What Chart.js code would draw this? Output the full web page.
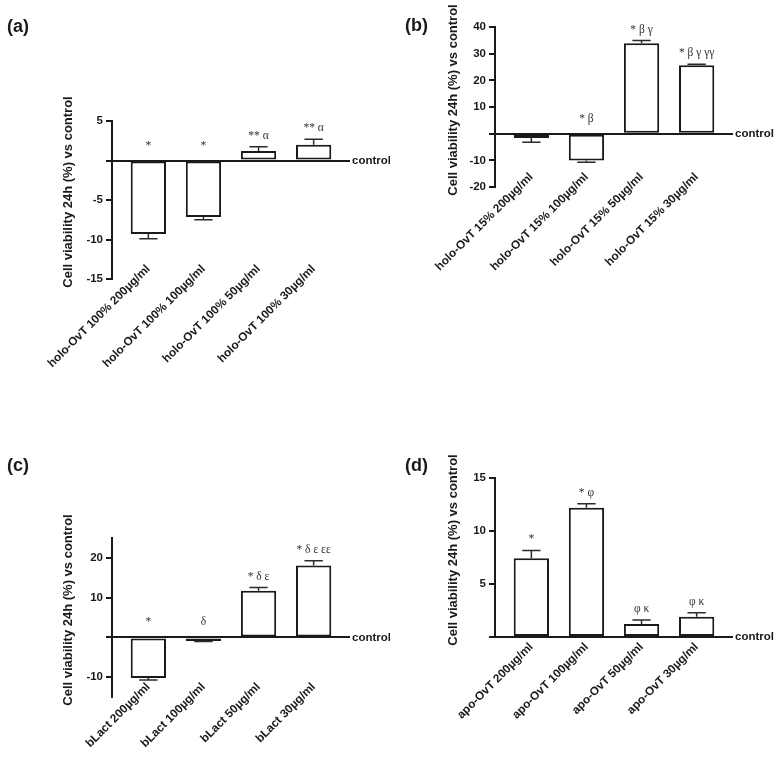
<!DOCTYPE html>
<html>
<head>
<meta charset="utf-8">
<title>Cell viability 24h</title>
<script src="https://cdn.jsdelivr.net/npm/chart.js@4.4.1/dist/chart.umd.min.js"></script>
<style>
  html, body { margin: 0; padding: 0; background: #fff; }
  #wrap { position: relative; width: 781px; height: 759px; overflow: hidden; }
  canvas { position: absolute; }
  .tag { position: absolute; font: bold 18px 'Liberation Sans', Arial, sans-serif; line-height: 20px; color: #1a1a1a; }
</style>
</head>
<body>
<div id="wrap">
  <canvas id="chartA"></canvas>
  <canvas id="chartB"></canvas>
  <canvas id="chartC"></canvas>
  <canvas id="chartD"></canvas>
  <div class="tag" style="left:7px;top:16px">(a)</div>
  <div class="tag" style="left:405px;top:15px">(b)</div>
  <div class="tag" style="left:7px;top:455px">(c)</div>
  <div class="tag" style="left:405px;top:455px">(d)</div>
</div>
<script>
// DATA
const labelsA = ['holo-OvT 100% 200µg/ml', 'holo-OvT 100% 100µg/ml', 'holo-OvT 100% 50µg/ml', 'holo-OvT 100% 30µg/ml'];
const valuesA = [-9.3, -7.15, 1.2, 2.0];
const errorsA = [0.6, 0.35, 0.55, 0.7];
const marksA = ['*', '*', '** α', '** α'];
const ticksA = [5, 0, -5, -10, -15];

const labelsB = ['holo-OvT 15% 200µg/ml', 'holo-OvT 15% 100µg/ml', 'holo-OvT 15% 50µg/ml', 'holo-OvT 15% 30µg/ml'];
const valuesB = [-1.6, -10.1, 33.9, 25.7];
const errorsB = [1.6, 0.6, 1.0, 0.3];
const marksB = ['', '* β', '* β γ', '* β γ γγ'];
const ticksB = [40, 30, 20, 10, 0, -10, -20];

const labelsC = ['bLact 200µg/ml', 'bLact 100µg/ml', 'bLact 50µg/ml', 'bLact 30µg/ml'];
const valuesC = [-10.2, -0.9, 11.7, 18.1];
const errorsC = [0.55, 0.12, 0.85, 1.15];
const marksC = ['*', 'δ', '* δ ε', '* δ ε εε'];
const ticksC = [20, 10, 0, -10];

const labelsD = ['apo-OvT 200µg/ml', 'apo-OvT 100µg/ml', 'apo-OvT 50µg/ml', 'apo-OvT 30µg/ml'];
const valuesD = [7.42, 12.2, 1.23, 1.92];
const errorsD = [0.75, 0.37, 0.37, 0.37];
const marksD = ['*', '* φ', 'φ κ', 'φ κ'];
const ticksD = [15, 10, 5, 0];

const yTitle = 'Cell viability 24h (%) vs control';
const INK = '#1a1a1a';

Chart.defaults.font.family = "'Liberation Sans', Arial, Helvetica, sans-serif";
Chart.defaults.color = INK;

// one panel = one canvas
function makePanel(id, p) {
    const cv = document.getElementById(id);
    cv.width = p.w;
    cv.height = p.h;
    cv.style.left = p.x + 'px';
    cv.style.top = p.y + 'px';

    // error bars, significance marks, "control" label, y title
    const decor = {
        id: 'decor',
        afterDatasetsDraw(chart) {
            const ctx = chart.ctx;
            const ys = chart.scales.y;
            const area = chart.chartArea;
            const zero = ys.getPixelForValue(0);
            const bars = chart.getDatasetMeta(0).data;

            ctx.save();
            ctx.strokeStyle = '#2b2b2b';
            ctx.lineWidth = 1.5;
            bars.forEach((bar, i) => {
                const v = p.values[i];
                const tip = ys.getPixelForValue(v + Math.sign(v) * p.errors[i]);
                const edge = ys.getPixelForValue(v);
                const half = bar.width * 0.26;
                ctx.beginPath();
                ctx.moveTo(bar.x, edge);
                ctx.lineTo(bar.x, tip);
                ctx.moveTo(bar.x - half, tip);
                ctx.lineTo(bar.x + half, tip);
                ctx.stroke();

                if (p.marks[i]) {
                    ctx.font = "11.5px 'Liberation Serif', 'DejaVu Serif', serif";
                    ctx.fillStyle = '#333';
                    ctx.textAlign = 'center';
                    ctx.textBaseline = 'middle';
                    const ty = v < 0 ? zero - 15 : tip - 11;
                    ctx.fillText(p.marks[i], bar.x, ty);
                }
            });

            ctx.font = "bold 11.5px 'Liberation Sans', Arial, sans-serif";
            ctx.fillStyle = INK;
            ctx.textAlign = 'left';
            ctx.textBaseline = 'middle';
            ctx.fillText('control', area.right + 2, zero);

            ctx.translate(p.titleX, p.titleY);
            ctx.rotate(-Math.PI / 2);
            ctx.font = "bold 13px 'Liberation Sans', Arial, sans-serif";
            ctx.textAlign = 'center';
            ctx.fillText(yTitle, 0, 0);
            ctx.restore();
        }
    };

    return new Chart(cv, {
        type: 'bar',
        data: {
            datasets: [{
                data: p.values.map((v, i) => ({ x: i, y: v })),
                backgroundColor: '#fff',
                borderColor: INK,
                borderWidth: 2,
                borderSkipped: false,
                barPercentage: 0.64,
                categoryPercentage: 1
            }]
        },
        options: {
            responsive: false,
            animation: false,
            layout: { padding: { left: 0, top: p.area.t, right: p.w - p.area.r, bottom: p.h - p.area.b } },
            plugins: { legend: { display: false }, tooltip: { enabled: false } },
            scales: {
                x: {
                    type: 'linear',
                    position: { y: p.min },
                    offset: false,
                    min: -0.66,
                    max: 3.66,
                    grid: { display: false, drawTicks: false, offset: false },
                    border: { display: false },
                    afterBuildTicks: s => { s.ticks = p.labels.map((_, i) => ({ value: i })); },
                    afterFit: s => { s.height = 0; s.paddingLeft = 0; s.paddingRight = 0; },
                    ticks: {
                        autoSkip: false,
                        minRotation: 45,
                        maxRotation: 45,
                        padding: p.labelPad,
                        font: { size: 11.8, weight: 'bold' },
                        color: INK,
                        callback: v => p.labels[v]
                    }
                },
                y: {
                    min: p.min,
                    max: p.max,
                    afterBuildTicks: s => { s.ticks = p.ticks.map(v => ({ value: v })); },
                    afterFit: s => { s.width = p.area.l; s.paddingTop = 0; s.paddingBottom = 0; },
                    border: { color: INK, width: 2 },
                    grid: {
                        color: c => (c.tick && c.tick.value === 0) ? INK : 'rgba(0,0,0,0)',
                        lineWidth: 2,
                        tickColor: INK,
                        tickLength: 6,
                        tickWidth: 2
                    },
                    ticks: {
                        padding: 3,
                        font: { size: 11.5, weight: 'bold' },
                        color: INK,
                        callback: v => v === 0 ? '' : v
                    }
                }
            }
        },
        plugins: [decor]
    });
}

makePanel('chartA', {
    x: 0, y: 0, w: 390, h: 380,
    area: { l: 112, r: 350, t: 121, b: 279 },
    titleX: 68, titleY: 192, labelPad: -17,
    min: -15, max: 5, ticks: ticksA,
    labels: labelsA, values: valuesA, errors: errorsA, marks: marksA
});

makePanel('chartB', {
    x: 390, y: 0, w: 391, h: 380,
    area: { l: 105, r: 343, t: 27, b: 187 },
    titleX: 63, titleY: 100, labelPad: -17,
    min: -20, max: 40, ticks: ticksB,
    labels: labelsB, values: valuesB, errors: errorsB, marks: marksB
});

makePanel('chartC', {
    x: 0, y: 380, w: 390, h: 379,
    area: { l: 112, r: 350, t: 158, b: 317 },
    titleX: 68, titleY: 230, labelPad: -17,
    min: -15, max: 25, ticks: ticksC,
    labels: labelsC, values: valuesC, errors: errorsC, marks: marksC
});

makePanel('chartD', {
    x: 390, y: 380, w: 391, h: 379,
    area: { l: 105, r: 343, t: 98, b: 257 },
    titleX: 63, titleY: 170, labelPad: 3,
    min: 0, max: 15, ticks: ticksD,
    labels: labelsD, values: valuesD, errors: errorsD, marks: marksD
});
</script>
</body>
</html>
